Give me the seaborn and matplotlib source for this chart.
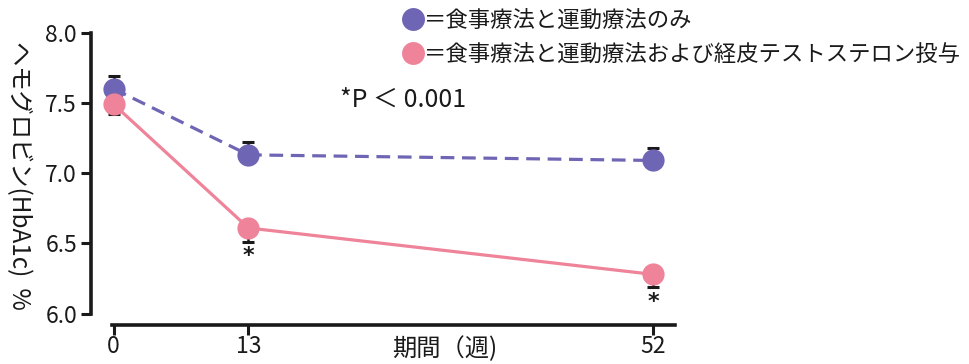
import matplotlib
matplotlib.use("Agg")
import matplotlib.pyplot as plt
from matplotlib.lines import Line2D
import seaborn as sns
import pandas as pd

# ---- data ----
weeks = [0, 13, 52]
groups = ["＝食事療法と運動療法のみ", "＝食事療法と運動療法および経皮テストステロン投与"]
diet_only = [7.60, 7.13, 7.09]
diet_only_err_up = [0.09, 0.09, 0.09]
diet_testo = [7.49, 6.61, 6.28]
diet_testo_err_down = [0.07, 0.10, 0.09]
sig_weeks = [13, 52]
sig_y = [6.41, 6.08]
yticks = [6.0, 6.5, 7.0, 7.5, 8.0]
xticks = [0, 13, 52]
colors = ["#6e66b4", "#ee8399"]

sns.set_theme(style="ticks")
plt.rcParams['font.family'] = ['Noto Sans CJK JP', 'DejaVu Sans']

df = pd.DataFrame({
    "week": weeks * 2,
    "val": diet_only + diet_testo,
    "group": [groups[0]] * 3 + [groups[1]] * 3,
})

fig = plt.figure(figsize=(9.69, 3.64), dpi=100)
ax = fig.add_axes([91/969, 1 - 325/364, 589/969, 315/364])

# error bars (one-sided)
ax.errorbar(weeks, diet_only, yerr=[[0]*3, diet_only_err_up], fmt='none',
            ecolor='#1a1a1a', elinewidth=1.8, capsize=4.5, capthick=2.2, zorder=1)
ax.errorbar(weeks, diet_testo, yerr=[diet_testo_err_down, [0]*3], fmt='none',
            ecolor='#1a1a1a', elinewidth=1.8, capsize=4.5, capthick=2.2, zorder=1)

sns.lineplot(data=df, x="week", y="val", hue="group", style="group",
             palette=dict(zip(groups, colors)),
             dashes={groups[0]: (4.3, 2.4), groups[1]: ""},
             markers={groups[0]: "o", groups[1]: "o"},
             markersize=16, markeredgewidth=0, linewidth=2.3,
             legend=False, ax=ax, zorder=3)

for w, y in zip(sig_weeks, sig_y):
    ax.text(w, y, "*", ha='center', va='center', fontsize=16, color='#1a1a1a',
            family=['DejaVu Sans'], fontweight='bold')

ax.text(21.8, 7.52, "*P ＜ 0.001", ha='left', va='center', fontsize=18, color='#1a1a1a')

ax.set_xlim(-2.17, 54.6)
ax.set_ylim(5.92, 8.16)
ax.set_xticks(xticks)
ax.set_yticks(yticks)
ax.set_yticklabels([f"{v:.1f}" for v in yticks])
ax.tick_params(axis='both', labelsize=16.5, width=2.2, length=7, color='#1a1a1a',
               labelcolor='#1a1a1a', pad=3)
ax.tick_params(axis='x', pad=0)
for s in ["top", "right"]:
    ax.spines[s].set_visible(False)
for s in ["left", "bottom"]:
    ax.spines[s].set_linewidth(2.6)
    ax.spines[s].set_color('#1a1a1a')
ax.spines["left"].set_bounds(6.0, 8.0)
ax.spines["bottom"].set_bounds(-0.15, 54.1)

ax.set_xlabel("期間（週)", fontsize=17.5, color='#1a1a1a')
ax.xaxis.set_label_coords(0.601, -0.035)
ax.set_ylabel("ヘモグロビン(HbA1c)  %", fontsize=17.5, color='#1a1a1a', rotation=270,
              va='center', ha='center')
ax.yaxis.set_label_coords(-0.122, 0.476)

handles = [Line2D([], [], marker='o', color=c, markersize=16.5, linestyle='none',
                  markeredgewidth=0) for c in colors]
fig.legend(handles, groups, loc='upper left', bbox_to_anchor=(386/969, 1.02),
           frameon=False, fontsize=16.1, handlelength=1.0, handletextpad=0.0,
           labelspacing=0.52, borderpad=0.2, labelcolor='#1a1a1a')

fig.savefig("out.png", dpi=100)
